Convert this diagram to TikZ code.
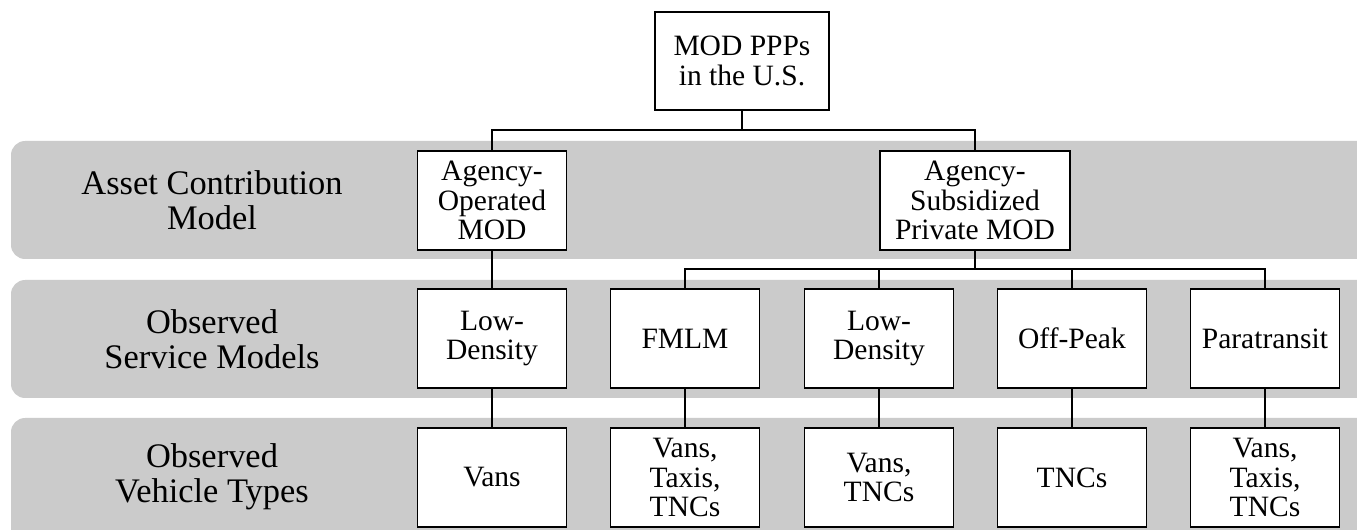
\documentclass[tikz,border=0pt]{standalone}
\usepackage{fontspec}
\setmainfont{Liberation Serif}
\definecolor{bandgray}{HTML}{CBCBCB}
\begin{document}
\begin{tikzpicture}[x=0.02cm,y=-0.02cm,
        band/.style={fill=bandgray,rounded corners=8pt},
        box/.style={draw,line width=0.7pt,fill=white,align=center,inner sep=1pt,
            minimum width=2.98cm,minimum height=1.98cm,font=\fontsize{16.8}{16.9}\selectfont},
        rowlabel/.style={align=center,font=\fontsize{19.6}{19.9}\selectfont},
        link/.style={line width=0.7pt}]
        \useasboundingbox (0,0) rectangle (1357,530);
        % grey rows
        \fill[band] (11,141) rectangle (1420,259);
        \fill[band] (11,280) rectangle (1420,398);
        \fill[band] (11,418) rectangle (1420,560);
        \node[rowlabel] (lab1) at (212,200) {Asset Contribution\\Model};
        \node[rowlabel] (lab2) at (212,339) {Observed\\Service Models};
        \node[rowlabel] (lab3) at (212,477) {Observed\\Vehicle Types};
        % boxes
        \node[box,minimum width=3.48cm,minimum height=1.96cm] (root) at (742,61) {MOD PPPs\\in the U.S.};
        \node[box] (aop) at (492,200.5) {Agency-\\Operated\\MOD};
        \node[box,minimum width=3.8cm] (asub) at (975,200.5) {Agency-\\Subsidized\\Private MOD};
        \node[box] (sm1) at (492,338.5) {Low-\\Density};
        \node[box] (sm2) at (685,338.5) {FMLM};
        \node[box] (sm3) at (879,338.5) {Low-\\Density};
        \node[box] (sm4) at (1072,338.5) {Off-Peak};
        \node[box] (sm5) at (1265,338.5) {Paratransit};
        \node[box] (vt1) at (492,477.5) {Vans};
        \node[box] (vt2) at (685,477.5) {Vans,\\Taxis,\\TNCs};
        \node[box] (vt3) at (879,477.5) {Vans,\\TNCs};
        \node[box] (vt4) at (1072,477.5) {TNCs};
        \node[box] (vt5) at (1265,477.5) {Vans,\\Taxis,\\TNCs};
        % connectors
        \coordinate (split1) at (742,130);
        \coordinate (split2) at (975,269);
        \draw[link] (root) -- (split1);
        \draw[link] (split1) -| (aop);
        \draw[link] (split1) -| (asub);
        \draw[link] (aop) -- (sm1);
        \draw[link] (asub) -- (split2);
        \foreach \i in {2,...,5}
            \draw[link] (split2) -| (sm\i);
        \foreach \i in {1,...,5}
            \draw[link] (sm\i) -- (vt\i);
    \end{tikzpicture}
\end{document}
